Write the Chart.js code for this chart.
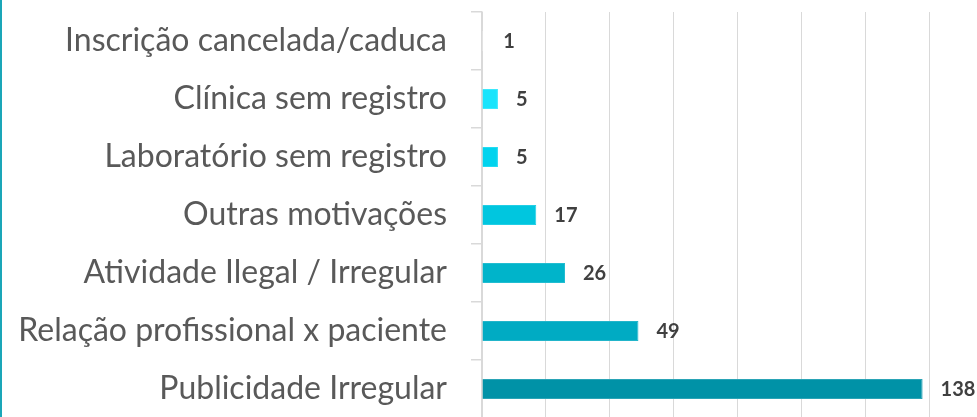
<!DOCTYPE html>
<html>
<head>
<meta charset="utf-8">
<script src="https://cdn.jsdelivr.net/npm/chart.js@4.4.1/dist/chart.umd.min.js"></script>
<style>
  html, body { margin: 0; padding: 0; background: #fff; }
  #wrap { position: relative; width: 977px; height: 417px; overflow: hidden; }
  #edge { position: absolute; left: 0; top: 0; width: 2px; height: 417px; background: #1aa6b8; }
  canvas { position: absolute; left: 0; top: 0; }
</style>
</head>
<body>
<div id="wrap">
  <canvas id="motivosChart" width="977" height="418"></canvas>
  <div id="edge"></div>
</div>
<script>
const categories = [
    "Inscrição cancelada/caduca",
    "Clínica sem registro",
    "Laboratório sem registro",
    "Outras motivações",
    "Atividade Ilegal / Irregular",
    "Relação profissional x paciente",
    "Publicidade Irregular"
];
const values = [1, 5, 5, 17, 26, 49, 138];
const barColors = ['#ffffff', '#1ae4fc', '#00d3ee', '#00c6df', '#00b4ca', '#00abc3', '#0092a7'];
const barBorders = ['#ffffff', '#3be9fd', '#22dbf2', '#22cee5', '#22bdd1', '#22b5ca', '#2aa4b6'];
const xTicks = { min: 0, max: 140, step: 20 };

// numbers drawn right of each bar
const valueLabels = {
    id: 'valueLabels',
    afterDatasetsDraw(chart) {
        const ctx = chart.ctx;
        const meta = chart.getDatasetMeta(0);
        ctx.save();
        ctx.font = "bold 20px Lato";
        ctx.fillStyle = "#404040";
        ctx.textAlign = "left";
        ctx.textBaseline = "middle";
        meta.data.forEach((bar, i) => {
            ctx.fillText(String(values[i]), bar.x + 18, bar.y + 1);
        });
        ctx.restore();
    }
};

const ctx = document.getElementById("motivosChart").getContext("2d");
new Chart(ctx, {
    type: 'bar',
    data: {
        labels: categories,
        datasets: [{
            data: values,
            backgroundColor: barColors,
            borderColor: barBorders,
            borderWidth: 1,
            categoryPercentage: 0.8,
            barPercentage: 0.43
        }]
    },
    options: {
        indexAxis: 'y',
        responsive: false,
        animation: false,
        layout: { padding: { top: 12, right: 48, bottom: 0, left: 0 } },
        plugins: { legend: { display: false }, tooltip: { enabled: false } },
        scales: {
            x: {
                min: xTicks.min,
                max: xTicks.max,
                ticks: { display: false, stepSize: xTicks.step },
                grid: { color: '#d9d9d9', lineWidth: 1, drawTicks: false },
                border: { display: false }
            },
            y: {
                afterFit(scale) {
                    scale.width = 482;
                    scale.paddingTop = 0;
                    scale.paddingBottom = 0;
                },
                ticks: {
                    color: '#595959',
                    font: { family: 'Lato', size: 32 },
                    padding: 24
                },
                grid: {
                    drawOnChartArea: false,
                    drawTicks: true,
                    tickLength: 11,
                    color: '#d9d9d9',
                    lineWidth: 1.5
                },
                border: { display: true, color: '#d9d9d9', width: 1.5 }
            }
        }
    },
    plugins: [valueLabels]
});
</script>
</body>
</html>
